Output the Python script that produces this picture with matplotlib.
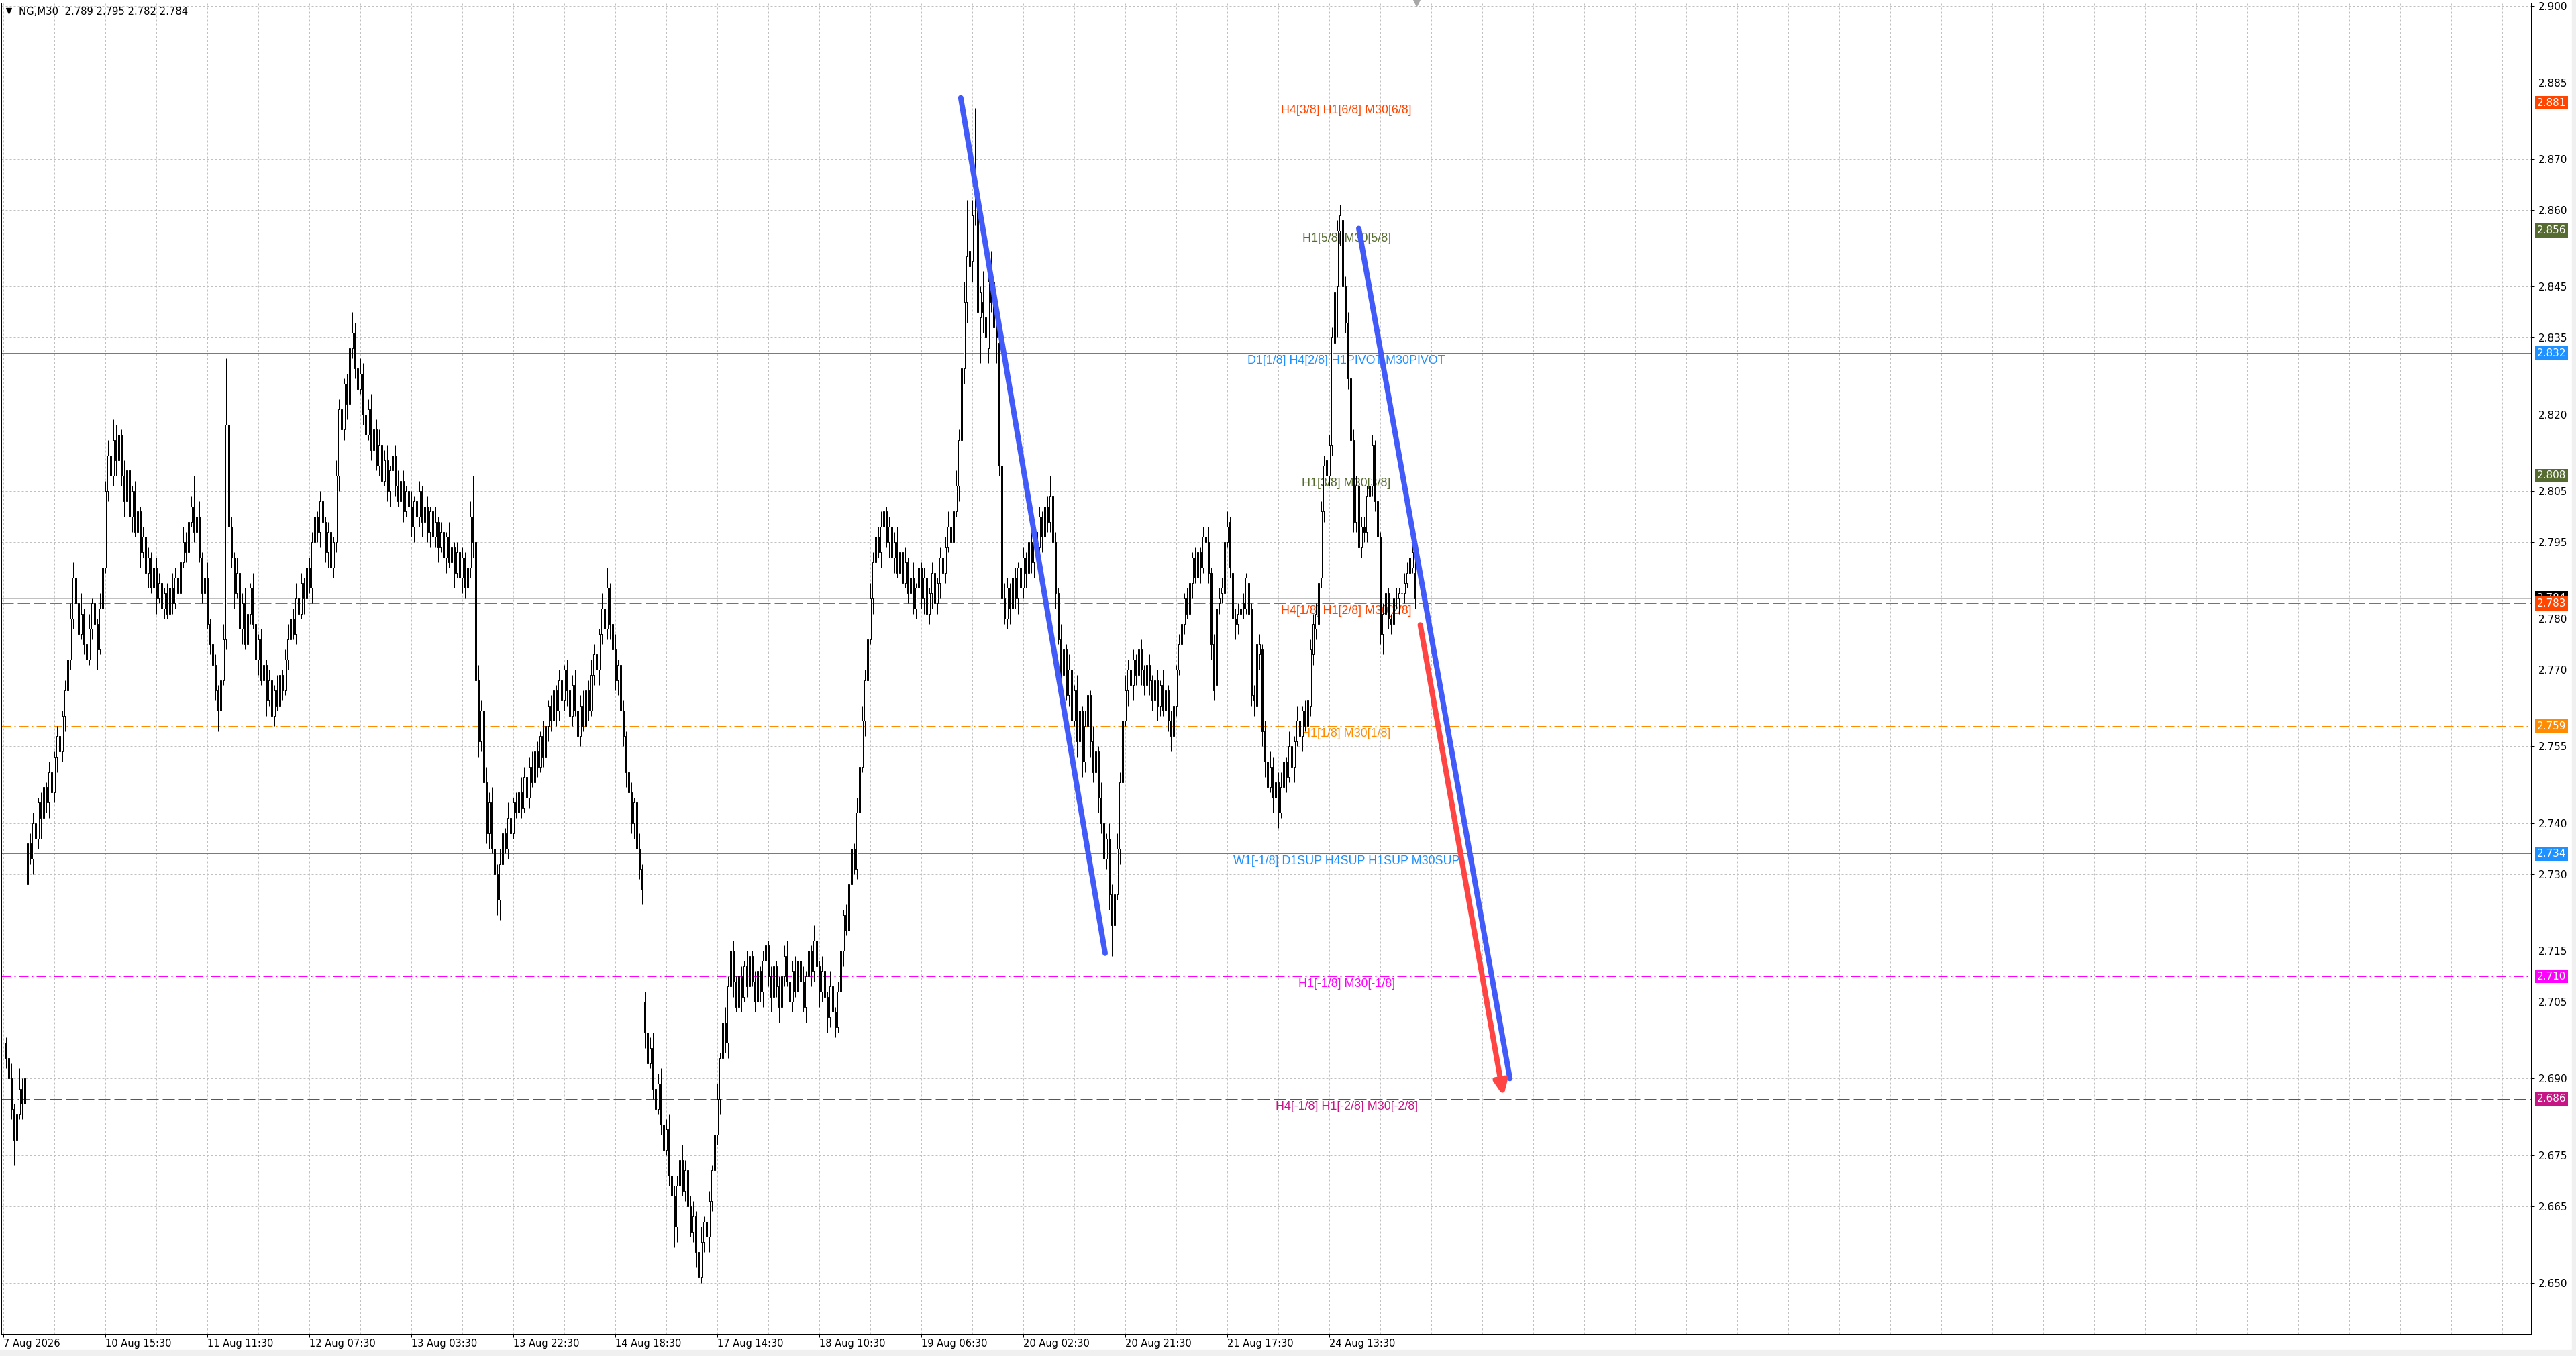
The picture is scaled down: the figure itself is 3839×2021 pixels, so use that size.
import numpy as np
import matplotlib
matplotlib.use("Agg")
import matplotlib.pyplot as plt
import matplotlib.transforms as mtransforms
from matplotlib.lines import Line2D
from matplotlib.patches import Rectangle

# NG, M30 candles, prices in thousandths (2784 = 2.784)
opens = [
    2697, 2694, 2690, 2684, 2678, 2683, 2688, 2685, 2728, 2736,
    2733, 2740, 2737, 2744, 2741, 2747, 2744, 2750, 2746, 2753,
    2757, 2754, 2761, 2766, 2772, 2780, 2788, 2783, 2777, 2781,
    2775, 2772, 2778, 2783, 2779, 2774, 2782, 2790, 2805, 2812,
    2808, 2815, 2811, 2816, 2808, 2803, 2809, 2800, 2805, 2797,
    2801, 2793, 2796, 2789, 2792, 2786, 2790, 2784, 2787, 2782,
    2785, 2781, 2786, 2783, 2788, 2785, 2791, 2795, 2793, 2799,
    2802, 2797, 2800, 2792, 2785, 2788, 2779, 2775, 2771, 2766,
    2762, 2768, 2776, 2818, 2798, 2792, 2785, 2789, 2778, 2783,
    2775, 2781, 2786, 2779, 2772, 2776, 2768, 2771, 2764, 2768,
    2761, 2766, 2763, 2769, 2766, 2772, 2776, 2780, 2777, 2784,
    2781, 2787, 2784, 2790, 2786, 2795, 2800, 2797, 2803, 2799,
    2793, 2797, 2790, 2795, 2808, 2821, 2817, 2826, 2822, 2833,
    2836, 2829, 2825, 2828, 2820, 2816, 2821, 2813, 2817, 2810,
    2814, 2807, 2811, 2805, 2809, 2812, 2806, 2803, 2807, 2801,
    2805, 2802, 2798, 2803, 2800, 2805, 2799, 2802, 2797, 2801,
    2796, 2799, 2794, 2797, 2792, 2796, 2791, 2794, 2789, 2793,
    2788, 2792, 2786, 2790, 2800, 2795, 2768, 2756, 2762, 2748,
    2738, 2744, 2735, 2730, 2725, 2732, 2738, 2735, 2741, 2738,
    2744, 2742, 2746, 2743, 2749, 2745, 2751, 2748, 2754, 2751,
    2757, 2753, 2759, 2763, 2760, 2766, 2762, 2768, 2764, 2770,
    2766, 2761, 2767, 2762, 2757, 2763, 2759, 2766, 2762, 2769,
    2773, 2770, 2777, 2782, 2778, 2786, 2779, 2774, 2768, 2771,
    2762, 2757, 2750, 2746, 2740, 2744, 2735, 2731, 2705, 2699,
    2693, 2696, 2688, 2684, 2689, 2681, 2676, 2680, 2671, 2667,
    2661, 2669, 2674, 2668, 2672, 2665, 2660, 2663, 2656, 2651,
    2658, 2662, 2659, 2666, 2672, 2679, 2686, 2694, 2701, 2697,
    2708, 2715, 2709, 2704, 2710, 2706, 2712, 2708, 2714, 2709,
    2705, 2711, 2707, 2713, 2716, 2710, 2706, 2712, 2708, 2704,
    2710, 2714, 2709, 2705, 2711, 2707, 2713, 2709, 2704, 2710,
    2715, 2711, 2717, 2712, 2707, 2711, 2706, 2702, 2708, 2703,
    2700, 2707, 2715, 2722, 2719, 2728, 2735, 2731, 2742, 2751,
    2760, 2768, 2776, 2784, 2791, 2796, 2793, 2798, 2801, 2795,
    2798, 2792, 2795, 2789, 2793, 2787, 2791, 2785, 2788, 2782,
    2786, 2790, 2784, 2788, 2781, 2785, 2789, 2783, 2787, 2792,
    2789, 2794, 2798, 2795, 2801, 2806, 2815, 2829, 2842, 2852,
    2850, 2860, 2862, 2839, 2842, 2839, 2833, 2850, 2846, 2837,
    2834, 2810, 2784, 2780, 2786, 2782, 2788, 2784, 2790, 2786,
    2792, 2789, 2795, 2791, 2797, 2794, 2800, 2796, 2802, 2799,
    2804, 2795, 2785, 2776, 2769, 2774, 2765, 2770, 2760, 2766,
    2756, 2762, 2752, 2759, 2765, 2756, 2750, 2754, 2745, 2740,
    2733, 2737, 2726, 2720, 2726, 2735, 2748, 2760, 2766, 2770,
    2767, 2772, 2769, 2774, 2770, 2767, 2771, 2768, 2764, 2768,
    2763, 2767, 2762, 2766, 2760, 2757, 2763, 2770, 2775, 2779,
    2784, 2781, 2787, 2792, 2788, 2793, 2790, 2796, 2795, 2789,
    2775, 2767, 2783, 2785, 2785, 2795, 2799, 2789, 2780, 2779,
    2781, 2783, 2782, 2787, 2782, 2765, 2763, 2773, 2774, 2758,
    2752, 2747, 2751, 2745, 2748, 2742, 2747, 2752, 2749, 2755,
    2751, 2756, 2760, 2757, 2762, 2759, 2763, 2773, 2778, 2779,
    2788, 2801, 2811, 2808, 2814, 2834, 2845, 2856, 2858, 2845,
    2838, 2827, 2815, 2799, 2806, 2794, 2798, 2797, 2804, 2806,
    2814, 2803, 2796, 2777, 2781, 2785, 2780, 2779, 2784, 2784,
    2785, 2785, 2787, 2789, 2790, 2789,
]
closes = [
    2694, 2690, 2684, 2678, 2683, 2688, 2685, 2690, 2736, 2733,
    2740, 2737, 2744, 2741, 2747, 2744, 2750, 2746, 2753, 2757,
    2754, 2761, 2766, 2772, 2780, 2788, 2783, 2777, 2781, 2775,
    2772, 2778, 2783, 2779, 2774, 2782, 2790, 2805, 2812, 2808,
    2815, 2811, 2816, 2808, 2803, 2809, 2800, 2805, 2797, 2801,
    2793, 2796, 2789, 2792, 2786, 2790, 2784, 2787, 2782, 2785,
    2781, 2786, 2783, 2788, 2785, 2791, 2795, 2793, 2799, 2802,
    2797, 2800, 2792, 2785, 2788, 2779, 2775, 2771, 2766, 2762,
    2768, 2776, 2818, 2798, 2792, 2785, 2789, 2778, 2783, 2775,
    2781, 2786, 2779, 2772, 2776, 2768, 2771, 2764, 2768, 2761,
    2766, 2763, 2769, 2766, 2772, 2776, 2780, 2777, 2784, 2781,
    2787, 2784, 2790, 2786, 2795, 2800, 2797, 2803, 2799, 2793,
    2797, 2790, 2795, 2808, 2821, 2817, 2826, 2822, 2833, 2836,
    2829, 2825, 2828, 2820, 2816, 2821, 2813, 2817, 2810, 2814,
    2807, 2811, 2805, 2809, 2812, 2806, 2803, 2807, 2801, 2805,
    2802, 2798, 2803, 2800, 2805, 2799, 2802, 2797, 2801, 2796,
    2799, 2794, 2797, 2792, 2796, 2791, 2794, 2789, 2793, 2788,
    2792, 2786, 2790, 2800, 2795, 2768, 2756, 2762, 2748, 2738,
    2744, 2735, 2730, 2725, 2732, 2738, 2735, 2741, 2738, 2744,
    2742, 2746, 2743, 2749, 2745, 2751, 2748, 2754, 2751, 2757,
    2753, 2759, 2763, 2760, 2766, 2762, 2768, 2764, 2770, 2766,
    2761, 2767, 2762, 2757, 2763, 2759, 2766, 2762, 2769, 2773,
    2770, 2777, 2782, 2778, 2786, 2779, 2774, 2768, 2771, 2762,
    2757, 2750, 2746, 2740, 2744, 2735, 2731, 2727, 2699, 2693,
    2696, 2688, 2684, 2689, 2681, 2676, 2680, 2671, 2667, 2661,
    2669, 2674, 2668, 2672, 2665, 2660, 2663, 2656, 2651, 2658,
    2662, 2659, 2666, 2672, 2679, 2686, 2694, 2701, 2697, 2708,
    2715, 2709, 2704, 2710, 2706, 2712, 2708, 2714, 2709, 2705,
    2711, 2707, 2713, 2716, 2710, 2706, 2712, 2708, 2704, 2710,
    2714, 2709, 2705, 2711, 2707, 2713, 2709, 2704, 2710, 2715,
    2711, 2717, 2712, 2707, 2711, 2706, 2702, 2708, 2703, 2700,
    2707, 2715, 2722, 2719, 2728, 2735, 2731, 2742, 2751, 2760,
    2768, 2776, 2784, 2791, 2796, 2793, 2798, 2801, 2795, 2798,
    2792, 2795, 2789, 2793, 2787, 2791, 2785, 2788, 2782, 2786,
    2790, 2784, 2788, 2781, 2785, 2789, 2783, 2787, 2792, 2789,
    2794, 2798, 2795, 2801, 2806, 2815, 2829, 2842, 2851, 2849,
    2859, 2860, 2840, 2844, 2840, 2835, 2846, 2842, 2837, 2835,
    2810, 2784, 2780, 2786, 2782, 2788, 2784, 2790, 2786, 2792,
    2789, 2795, 2791, 2797, 2794, 2800, 2796, 2802, 2799, 2804,
    2795, 2785, 2776, 2769, 2774, 2765, 2770, 2760, 2766, 2756,
    2762, 2752, 2759, 2765, 2756, 2750, 2754, 2745, 2740, 2733,
    2737, 2726, 2720, 2726, 2735, 2748, 2760, 2766, 2770, 2767,
    2772, 2769, 2774, 2770, 2767, 2771, 2768, 2764, 2768, 2763,
    2767, 2762, 2766, 2760, 2757, 2763, 2770, 2775, 2779, 2784,
    2781, 2787, 2792, 2788, 2793, 2790, 2796, 2795, 2789, 2775,
    2766, 2782, 2784, 2786, 2795, 2798, 2790, 2780, 2779, 2781,
    2782, 2782, 2788, 2781, 2765, 2764, 2775, 2775, 2758, 2752,
    2747, 2751, 2745, 2748, 2742, 2747, 2752, 2749, 2755, 2751,
    2756, 2760, 2757, 2762, 2759, 2764, 2774, 2779, 2781, 2787,
    2801, 2810, 2808, 2814, 2835, 2844, 2856, 2859, 2845, 2838,
    2827, 2815, 2799, 2806, 2794, 2798, 2797, 2804, 2806, 2814,
    2803, 2796, 2777, 2781, 2785, 2780, 2779, 2784, 2784, 2785,
    2785, 2787, 2789, 2792, 2793, 2784,
]
# wick lengths above / below the body, thousandths
upper_wick = [
    1, 2, 3, 1, 2, 4, 2, 3, 5, 2,   2, 3, 1, 2, 3, 1, 2, 4, 1, 2,
    3, 1, 2, 2, 3, 3, 1, 2, 4, 1,   2, 3, 1, 2, 1, 3, 2, 2, 3, 4,
    4, 3, 2, 1, 3, 2, 4, 1, 2, 3,   1, 2, 3, 2, 1, 3, 2, 2, 3, 1,
    2, 1, 3, 2, 2, 1, 3, 2, 1, 2,   6, 2, 3, 1, 2, 3, 1, 2, 2, 1,
    2, 3, 13, 4, 2, 1, 3, 2, 2, 3,  2, 1, 3, 2, 1, 2, 3, 1, 2, 2,
    1, 3, 2, 1, 2, 3, 1, 2, 3, 1,   2, 1, 3, 2, 2, 3, 1, 2, 3, 1,
    2, 3, 1, 3, 2, 3, 1, 2, 3, 4,   2, 1, 3, 2, 1, 2, 3, 1, 2, 3,
    1, 2, 3, 1, 2, 2, 3, 1, 2, 1,   2, 3, 1, 2, 2, 1, 3, 2, 1, 2,
    3, 1, 2, 2, 1, 3, 2, 1, 2, 3,   2, 1, 3, 3, 8, 2, 3, 2, 1, 3,
    2, 3, 1, 2, 3, 2, 1, 3, 2, 1,   2, 1, 3, 2, 1, 2, 3, 1, 2, 1,
    3, 2, 1, 2, 3, 1, 2, 3, 1, 2,   1, 2, 3, 1, 2, 3, 1, 2, 3, 2,
    2, 1, 3, 2, 4, 1, 2, 3, 1, 2,   2, 1, 3, 2, 1, 2, 3, 1, 2, 1,
    2, 3, 1, 2, 3, 1, 2, 3, 1, 2,   2, 1, 3, 2, 1, 2, 3, 1, 2, 3,
    1, 3, 2, 1, 2, 3, 1, 2, 3, 2,   4, 2, 1, 3, 2, 1, 3, 2, 1, 2,
    3, 1, 2, 3, 1, 2, 3, 1, 2, 3,   2, 3, 1, 2, 3, 1, 2, 3, 1, 7,
    1, 3, 2, 1, 3, 2, 1, 3, 2, 1,   2, 3, 1, 2, 3, 2, 1, 3, 2, 3,
    2, 1, 3, 2, 1, 2, 3, 3, 1, 2,   1, 2, 3, 1, 2, 3, 1, 2, 3, 1,
    3, 1, 2, 3, 1, 2, 3, 1, 2, 3,   2, 3, 1, 2, 3, 2, 3, 4, 11, 3,
    3, 20, 4, 1, 6, 6, 2, 2, 2, 2,  2, 1, 3, 2, 1, 3, 2, 1, 3, 2,
    1, 3, 2, 1, 3, 2, 1, 3, 2, 4,   3, 2, 1, 3, 2, 1, 3, 2, 1, 3,
    2, 1, 3, 2, 1, 3, 2, 1, 3, 2,   1, 3, 2, 1, 3, 2, 1, 3, 2, 1,
    2, 1, 3, 2, 1, 3, 2, 1, 3, 2,   1, 3, 2, 1, 2, 3, 1, 2, 3, 1,
    2, 3, 1, 2, 3, 1, 2, 3, 3, 1,   2, 2, 2, 2, 2, 3, 1, 1, 2, 2,
    8, 2, 1, 1, 1, 2, 1, 2, 1, 2,   1, 3, 2, 1, 2, 3, 2, 1, 3, 2,
    1, 3, 2, 1, 2, 3, 2, 2, 2, 2,   2, 2, 2, 2, 2, 2, 2, 2, 8, 2,
    2, 2, 2, 2, 1, 2, 2, 2, 2, 2,   1, 1, 1, 2, 2, 1, 1, 1, 2, 1,
    2, 2, 2, 1, 2, 6,
]
lower_wick = [
    2, 1, 2, 5, 2, 1, 3, 2, 15, 1,  3, 1, 2, 4, 1, 2, 3, 1, 2, 3,
    1, 2, 3, 1, 2, 2, 3, 4, 1, 2,   3, 1, 2, 3, 4, 1, 2, 1, 2, 3,
    2, 3, 1, 2, 3, 1, 2, 3, 1, 2,   3, 1, 2, 3, 1, 2, 3, 1, 2, 2,
    1, 3, 2, 1, 2, 3, 1, 2, 2, 1,   2, 3, 1, 2, 3, 1, 2, 3, 2, 4,
    2, 1, 2, 3, 2, 3, 1, 2, 3, 1,   3, 2, 1, 2, 3, 1, 2, 3, 1, 3,
    2, 1, 3, 2, 1, 2, 3, 1, 2, 3,   1, 3, 2, 1, 3, 1, 2, 3, 1, 2,
    3, 1, 2, 2, 3, 1, 2, 3, 1, 2,   2, 3, 1, 2, 3, 1, 2, 3, 1, 2,
    3, 1, 2, 3, 1, 2, 1, 3, 2, 1,   1, 2, 3, 1, 2, 3, 1, 2, 3, 1,
    2, 3, 1, 2, 3, 1, 2, 3, 1, 2,   3, 2, 1, 2, 3, 4, 3, 2, 3, 2,
    3, 1, 2, 3, 4, 2, 1, 2, 3, 1,   1, 3, 2, 1, 3, 2, 1, 3, 2, 1,
    2, 1, 3, 2, 1, 3, 2, 1, 2, 3,   3, 2, 1, 7, 2, 1, 3, 2, 1, 2,
    1, 3, 2, 1, 2, 3, 1, 2, 3, 1,   2, 3, 1, 2, 3, 1, 2, 3, 3, 2,
    1, 2, 3, 1, 2, 3, 1, 2, 3, 4,   3, 2, 1, 2, 3, 1, 2, 3, 4, 1,
    2, 1, 3, 2, 1, 2, 3, 1, 2, 3,   2, 3, 1, 2, 3, 1, 2, 3, 1, 2,
    1, 2, 3, 1, 2, 3, 1, 2, 3, 1,   2, 1, 3, 2, 1, 3, 2, 1, 3, 2,
    3, 2, 1, 3, 2, 1, 3, 2, 1, 2,   1, 2, 3, 1, 2, 3, 1, 2, 3, 1,
    3, 2, 1, 3, 2, 1, 3, 2, 1, 3,   2, 3, 1, 2, 3, 1, 2, 3, 1, 2,
    1, 2, 3, 1, 2, 3, 1, 2, 3, 1,   2, 1, 3, 2, 1, 3, 2, 3, 4, 7,
    4, 3, 4, 9, 4, 7, 3, 2, 3, 5,   2, 3, 1, 2, 3, 1, 2, 3, 1, 2,
    3, 1, 2, 3, 1, 2, 3, 1, 2, 2,   2, 3, 1, 2, 3, 1, 2, 3, 1, 3,
    1, 3, 2, 1, 3, 2, 1, 3, 2, 3,   2, 3, 6, 2, 1, 3, 2, 1, 3, 2,
    3, 2, 1, 3, 2, 1, 3, 2, 1, 3,   2, 1, 3, 2, 3, 4, 2, 1, 3, 2,
    1, 2, 3, 1, 2, 3, 1, 2, 2, 3,   2, 2, 2, 2, 1, 1, 2, 2, 3, 2,
    5, 2, 1, 2, 2, 3, 2, 3, 3, 3,   2, 1, 3, 2, 3, 1, 2, 3, 1, 2,
    3, 1, 2, 3, 1, 2, 2, 2, 2, 2,   2, 2, 2, 2, 2, 2, 10, 3, 3, 2,
    2, 3, 2, 2, 6, 2, 2, 2, 2, 2,   2, 19, 2, 4, 1, 2, 2, 1, 2, 3,
    1, 2, 1, 1, 1, 2,
]

# one time label every 38 bars, the first one sits one bar left of bar 0
time_labels = ["7 Aug 2026", "10 Aug 15:30", "11 Aug 11:30", "12 Aug 07:30",
               "13 Aug 03:30", "13 Aug 22:30", "14 Aug 18:30", "17 Aug 14:30",
               "18 Aug 10:30", "19 Aug 06:30", "20 Aug 02:30", "20 Aug 21:30",
               "21 Aug 17:30", "24 Aug 13:30"]
price_ticks = [2.900, 2.885, 2.870, 2.860, 2.845, 2.835, 2.820, 2.805, 2.795,
               2.780, 2.770, 2.755, 2.740, 2.730, 2.715, 2.705, 2.690, 2.675,
               2.665, 2.650]

level_prices = [2.881, 2.856, 2.832, 2.808, 2.783, 2.759, 2.734, 2.710, 2.686]
level_names = ["H4[3/8] H1[6/8] M30[6/8]", "H1[5/8] M30[5/8]",
               "D1[1/8] H4[2/8] H1PIVOT M30PIVOT", "H1[3/8] M30[3/8]",
               "H4[1/8] H1[2/8] M30[2/8]", "H1[1/8] M30[1/8]",
               "W1[-1/8] D1SUP H4SUP H1SUP M30SUP", "H1[-1/8] M30[-1/8]",
               "H4[-1/8] H1[-2/8] M30[-2/8]"]
level_colors = ["#FF4500", "#556B2F", "#1E90FF", "#556B2F", "#FF4500",
                "#FF8C00", "#1E90FF", "#FF00FF", "#C71585"]
level_styles = ["dash", "dashdot", "solid", "dashdot", "dash", "dashdot",
                "solid", "dashdot", "dash"]

last_price = 2.784
header = "NG,M30  2.789 2.795 2.782 2.784"

# hand drawn objects, anchored at (bar, price)
trend1 = [(355.7, 2.8820), (409.5, 2.7145)]
trend2 = [(504.0, 2.8564), (560.3, 2.6900)]
arrow_from = (526.9, 2.7788)
arrow_to = (557.9, 2.6865)
label_bar = 499.4

W, H = 3839, 2021
PX = 72 / 100  # one pixel in points

fig = plt.figure(figsize=(W / 100, H / 100), dpi=100)
fig.patch.set_facecolor("white")
ax = fig.add_axes([2 / W, 33 / H, 3770 / W, 1984 / H])
ax.set_xlim(-1.75, 940.75)
ax.set_ylim(2.6400, 2.9006)

# grid
for p in price_ticks:
    ax.axhline(p, color="#c0c0c0", lw=PX, dashes=(3, 3), zorder=0)
for k in range(0, 50):
    ax.axvline(-1 + 19 * k, color="#c0c0c0", lw=PX, dashes=(3, 3), zorder=0)

# levels
dash_map = {"dash": (18, 6), "dashdot": (14, 5, 2, 5)}
for p, name, col, st in zip(level_prices, level_names, level_colors, level_styles):
    if st == "solid":
        ax.axhline(p, color=col, lw=PX, zorder=1)
    else:
        ax.axhline(p, color=col, lw=PX, dashes=dash_map[st], zorder=1)
    ax.annotate(name, xy=(label_bar, p), xytext=(0, -3 * PX), textcoords="offset points",
                ha="center", va="top", color=col, fontsize=12.9,
                family="Liberation Sans", zorder=2)

ax.axhline(last_price, color="#c0c0c0", lw=PX, zorder=1)

# candles
n = min(len(opens), len(closes), len(upper_wick), len(lower_wick))
o = np.array(opens[:n]) / 1000
c = np.array(closes[:n]) / 1000
hi = np.maximum(o, c) + np.array(upper_wick[:n]) / 1000
lo = np.minimum(o, c) - np.array(lower_wick[:n]) / 1000
x = np.arange(n)
bull = c >= o
ax.vlines(x, lo, hi, color="black", lw=PX, zorder=3)
ax.bar(x[bull], (c - o)[bull], bottom=o[bull], width=0.5, color="white",
       edgecolor="black", lw=PX, zorder=4)
ax.bar(x[~bull], (o - c)[~bull], bottom=c[~bull], width=0.5, color="black",
       edgecolor="black", lw=PX, zorder=4)

# trend lines and arrow
blue = "#415AF8"
red = "#FF4444"
for seg in (trend1, trend2):
    ax.plot([seg[0][0], seg[1][0]], [seg[0][1], seg[1][1]], color=blue,
            lw=8 * PX, solid_capstyle="round", zorder=6)
ax.annotate("", xy=arrow_to, xytext=arrow_from,
            arrowprops=dict(arrowstyle="-|>,head_length=0.55,head_width=0.25",
                            color=red, lw=8 * PX, shrinkA=0, shrinkB=0,
                            mutation_scale=22, capstyle="round"), zorder=6)

# axes look
for sp in ax.spines.values():
    sp.set_color("black")
    sp.set_linewidth(PX)
ax.yaxis.tick_right()
ax.set_yticks(price_ticks)
ax.set_yticklabels([f"{p:.3f}" for p in price_ticks])
ax.tick_params(axis="y", direction="out", length=3.6, width=PX, pad=4,
               labelsize=11, colors="black")
ax.set_xticks([-1 + 38 * m for m in range(len(time_labels))])
ax.set_xticklabels(time_labels, ha="left")
ax.tick_params(axis="x", direction="out", length=3.6, width=PX, pad=1.5,
               labelsize=10.5, colors="black")

# price boxes on the right scale
trans = mtransforms.blended_transform_factory(ax.transAxes, ax.transData)
xb = 1 + 9 / 3770
ax.text(xb, last_price, f"{last_price:.3f}", transform=trans, ha="left", va="center",
        color="white", fontsize=11, clip_on=False, zorder=9,
        bbox=dict(boxstyle="square,pad=0.18", fc="black", ec="none"))
for p, col in zip(level_prices, level_colors):
    ax.text(xb, p, f"{p:.3f}", transform=trans, ha="left", va="center",
            color="white", fontsize=11, clip_on=False, zorder=10,
            bbox=dict(boxstyle="square,pad=0.18", fc=col, ec="none"))

# chart shift marker at the top
ax.plot([n - 0.5], [2.9006], marker="v", ms=7, color="#a8a8a8", clip_on=False, zorder=7)

# header
fig.add_artist(Line2D([12.5 / W], [1 - 16 / H], marker="v", ms=6, color="black",
                      transform=fig.transFigure))
fig.text(28 / W, 1 - 17 / H, header, fontsize=10.6, va="center", ha="left", color="black")

# window border strips
fig.add_artist(Rectangle((0, 0), 1, 9 / H, transform=fig.transFigure,
                         color="#f0f0f0", zorder=-5))
fig.add_artist(Rectangle((3833 / W, 0), 6 / W, 1, transform=fig.transFigure,
                         color="#f0f0f0", zorder=-5))

fig.savefig("out.png", dpi=100)
